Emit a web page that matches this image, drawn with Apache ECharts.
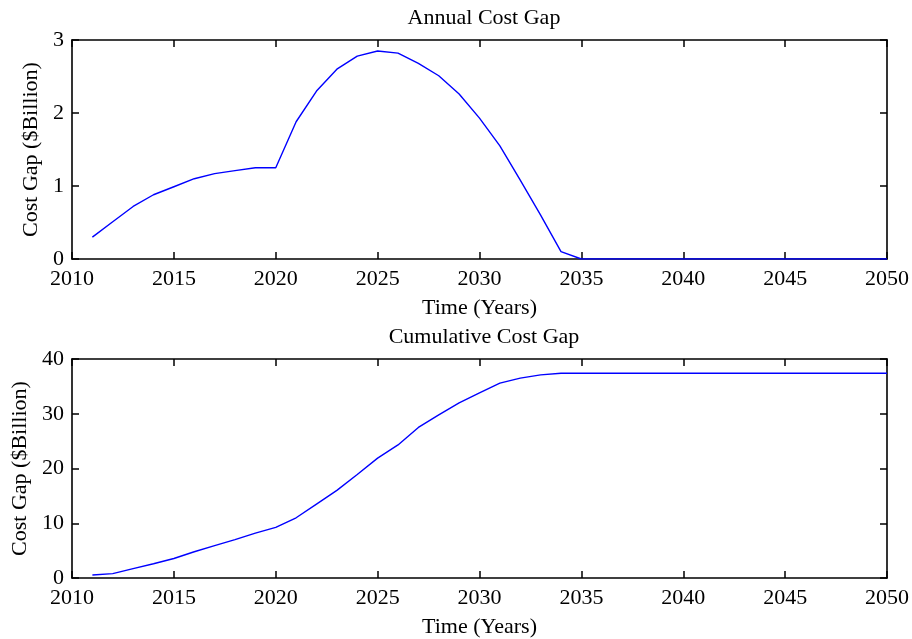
<!DOCTYPE html>
<html>
<head>
<meta charset="utf-8">
<script src="https://cdn.jsdelivr.net/npm/echarts@6/dist/echarts.min.js"></script>
<style>
  html, body { margin: 0; padding: 0; background: #fff; }
  #chart { width: 912px; height: 639px; }
</style>
</head>
<body>
<div id="chart"></div>
<script>
// Years simulated
const years = [2011, 2012, 2013, 2014, 2015, 2016, 2017, 2018, 2019, 2020,
               2021, 2022, 2023, 2024, 2025, 2026, 2027, 2028, 2029, 2030,
               2031, 2032, 2033, 2034, 2035, 2036, 2037, 2038, 2039, 2040,
               2041, 2042, 2043, 2044, 2045, 2046, 2047, 2048, 2049, 2050];

// Annual cost gap, $ billion
const annualGap = [0.30, 0.51, 0.72, 0.88, 0.99, 1.10, 1.17, 1.21, 1.25, 1.25,
                   1.88, 2.30, 2.60, 2.78, 2.85, 2.82, 2.68, 2.51, 2.26, 1.93,
                   1.55, 1.08, 0.60, 0.10, 0.00, 0.00, 0.00, 0.00, 0.00, 0.00,
                   0.00, 0.00, 0.00, 0.00, 0.00, 0.00, 0.00, 0.00, 0.00, 0.00];

// Cumulative cost gap, $ billion
const cumulativeGap = [0.54, 0.79, 1.70, 2.60, 3.56, 4.80, 5.90, 7.00, 8.20, 9.25,
                       11.0, 13.5, 16.0, 18.9, 21.9, 24.3, 27.5, 29.8, 32.0, 33.8,
                       35.6, 36.5, 37.1, 37.4, 37.4, 37.4, 37.4, 37.4, 37.4, 37.4,
                       37.4, 37.4, 37.4, 37.4, 37.4, 37.4, 37.4, 37.4, 37.4, 37.4];

const xTicks = { min: 2010, max: 2050, interval: 5 };
const annualTicks = { min: 0, max: 3, interval: 1 };
const cumulativeTicks = { min: 0, max: 40, interval: 10 };

const FONT = '"Liberation Serif", "Times New Roman", serif';
const FS = 22;
const textBase = { fontFamily: FONT, color: '#000' };

function pairs(xs, ys) { return xs.map((x, i) => [x, ys[i]]); }

const frameLine = { show: true, onZero: false, lineStyle: { color: '#000', width: 1.6 } };
const innerTick = { show: true, inside: true, length: 7, lineStyle: { color: '#000', width: 1.5 } };

function xAxes(gridIndex) {
  return [
    {
      type: 'value', gridIndex, position: 'bottom',
      min: xTicks.min, max: xTicks.max, interval: xTicks.interval,
      name: 'Time (Years)', nameLocation: 'middle', nameGap: 38,
      nameTextStyle: Object.assign({ fontSize: FS }, textBase),
      axisLine: frameLine,
      axisTick: innerTick,
      axisLabel: Object.assign({ fontSize: FS, margin: 9, showMinLabel: true, showMaxLabel: true,
                                 formatter: v => String(v) }, textBase),
      splitLine: { show: false }
    },
    {
      type: 'value', gridIndex, position: 'top',
      min: xTicks.min, max: xTicks.max, interval: xTicks.interval,
      axisLine: frameLine,
      axisTick: innerTick,
      axisLabel: { show: false },
      splitLine: { show: false }
    }
  ];
}

function yAxes(gridIndex, ticks, gap) {
  return [
    {
      type: 'value', gridIndex, position: 'left',
      min: ticks.min, max: ticks.max, interval: ticks.interval,
      name: 'Cost Gap ($Billion)', nameLocation: 'middle', nameGap: gap, nameRotate: 90,
      nameTextStyle: Object.assign({ fontSize: FS }, textBase),
      axisLine: frameLine,
      axisTick: innerTick,
      axisLabel: Object.assign({ fontSize: FS, margin: 8, formatter: v => String(v) }, textBase),
      splitLine: { show: false }
    },
    {
      type: 'value', gridIndex, position: 'right',
      min: ticks.min, max: ticks.max, interval: ticks.interval,
      axisLine: frameLine,
      axisTick: innerTick,
      axisLabel: { show: false },
      splitLine: { show: false }
    }
  ];
}

const chart = echarts.init(document.getElementById('chart'), null, { renderer: 'canvas' });

chart.setOption({
  animation: false,
  backgroundColor: '#fff',
  title: [
    { text: 'Annual Cost Gap', left: 479, top: 2, textAlign: 'center',
      textStyle: Object.assign({ fontSize: FS, fontWeight: 'normal' }, textBase) },
    { text: 'Cumulative Cost Gap', left: 479, top: 321, textAlign: 'center',
      textStyle: Object.assign({ fontSize: FS, fontWeight: 'normal' }, textBase) }
  ],
  grid: [
    { left: 72, top: 40, width: 815, height: 219 },
    { left: 72, top: 359, width: 815, height: 221 }
  ],
  xAxis: xAxes(0).concat(xAxes(1)),
  yAxis: yAxes(0, annualTicks, 29).concat(yAxes(1, cumulativeTicks, 40)),
  series: [
    {
      type: 'line', xAxisIndex: 0, yAxisIndex: 0,
      data: pairs(years, annualGap),
      showSymbol: false, silent: true,
      lineStyle: { color: '#0000ff', width: 1.4 }
    },
    {
      type: 'line', xAxisIndex: 2, yAxisIndex: 2,
      data: pairs(years, cumulativeGap),
      showSymbol: false, silent: true,
      lineStyle: { color: '#0000ff', width: 1.4 }
    }
  ]
});
</script>
</body>
</html>
